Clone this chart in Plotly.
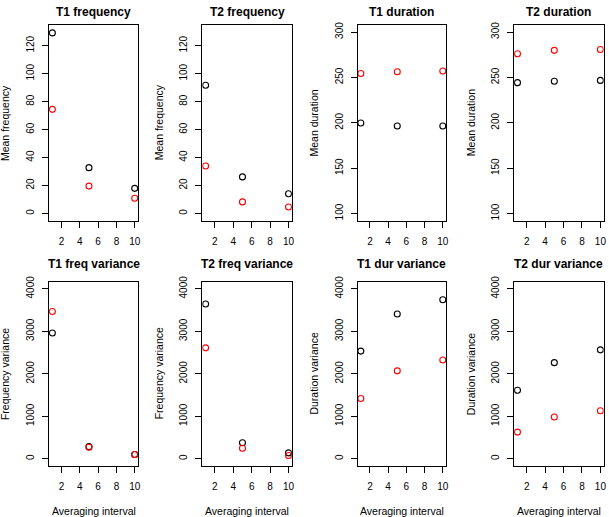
import plotly.graph_objects as go

# ---- data ----
interval = [1, 5, 10]
x_ticks = [2, 4, 6, 8, 10]

t1_freq_black = [129.2, 32.8, 18.0]
t1_freq_red = [74.5, 19.6, 10.9]
t2_freq_black = [91.7, 26.2, 14.1]
t2_freq_red = [34.0, 8.3, 4.7]
t1_dur_black = [199.7, 196.4, 196.4]
t1_dur_red = [254.3, 256.2, 257.0]
t2_dur_black = [244.2, 245.7, 246.7]
t2_dur_red = [276.1, 279.8, 280.8]
t1_fvar_black = [2961, 286, 100]
t1_fvar_red = [3466, 271, 100]
t2_fvar_black = [3643, 379, 140]
t2_fvar_red = [2612, 247, 77]
t1_dvar_black = [2535, 3410, 3745]
t1_dvar_red = [1419, 2070, 2326]
t2_dvar_black = [1612, 2263, 2565]
t2_dvar_red = [628, 984, 1130]

titles = ["T1 frequency", "T2 frequency", "T1 duration", "T2 duration",
          "T1 freq variance", "T2 freq variance", "T1 dur variance", "T2 dur variance"]
y_titles = ["Mean frequency", "Mean frequency", "Mean duration", "Mean duration",
            "Frequency variance", "Frequency variance", "Duration variance", "Duration variance"]
freq_ticks = [0, 20, 40, 60, 80, 100, 120]
dur_ticks = [100, 150, 200, 250, 300]
var_ticks = [0, 1000, 2000, 3000, 4000]
x_title = "Averaging interval"

panels = [
    (t1_freq_black, t1_freq_red, freq_ticks, [-5.2, 135.0]),
    (t2_freq_black, t2_freq_red, freq_ticks, [-5.2, 135.0]),
    (t1_dur_black, t1_dur_red, dur_ticks, [92, 308]),
    (t2_dur_black, t2_dur_red, dur_ticks, [92, 308]),
    (t1_fvar_black, t1_fvar_red, var_ticks, [-160, 4160]),
    (t2_fvar_black, t2_fvar_red, var_ticks, [-160, 4160]),
    (t1_dvar_black, t1_dvar_red, var_ticks, [-160, 4160]),
    (t2_dvar_black, t2_dvar_red, var_ticks, [-160, 4160]),
]

# ---- layout geometry (pixels) ----
W, H = 609, 517
col_px = [(49.3, 138.7), (203.3, 293.3), (359.3, 448.3), (516.7, 606.7)]
row_px = [(19.0, 217.3), (279.3, 465.0)]

FONT = "Liberation Sans, Arial, Helvetica, sans-serif"

fig = go.Figure()
layout = dict(
    width=W, height=H,
    margin=dict(l=0, r=0, t=0, b=0),
    paper_bgcolor="white", plot_bgcolor="white",
    showlegend=False,
    font=dict(family=FONT, color="black", size=10),
)
annotations = []

for i, (blk, red, yt, yr) in enumerate(panels):
    r, c = divmod(i, 4)
    x0, x1 = col_px[c]
    y0, y1 = row_px[r]
    n = "" if i == 0 else str(i + 1)
    xa, ya = "x" + n, "y" + n
    fig.add_trace(go.Scatter(x=interval, y=blk, mode="markers", xaxis=xa, yaxis=ya,
                             name="black", marker=dict(symbol="circle-open", size=6,
                                                      color="black", line=dict(width=1.1))))
    fig.add_trace(go.Scatter(x=interval, y=red, mode="markers", xaxis=xa, yaxis=ya,
                             name="red", marker=dict(symbol="circle-open", size=6,
                                                    color="#ff0000", line=dict(width=1.1))))
    common = dict(showline=True, mirror=True, linecolor="black", linewidth=1,
                  ticks="outside", ticklen=6, tickcolor="black", tickwidth=1,
                  showgrid=False, zeroline=False,
                  tickfont=dict(family=FONT, size=10, color="black"))
    layout["xaxis" + n] = dict(common, domain=[x0 / W, x1 / W], anchor=ya,
                               range=[0.64, 10.36], tickvals=x_ticks,
                               ticktext=[str(v) for v in x_ticks], ticklabelstandoff=5)
    layout["yaxis" + n] = dict(common, domain=[1 - y1 / H, 1 - y0 / H], anchor=xa,
                               range=yr, tickvals=yt, ticktext=[str(v) for v in yt],
                               tickangle=-90, ticklabelstandoff=4)
    # panel title
    annotations.append(dict(text="<b>" + titles[i] + "</b>", xref="paper", yref="paper",
                            x=(x0 + x1) / 2 / W, y=1 - (6.0 if r == 0 else 260.7) / H,
                            xanchor="center", yanchor="middle", showarrow=False,
                            font=dict(family=FONT, size=12, color="black")))
    # y title
    annotations.append(dict(text=y_titles[i], xref="paper", yref="paper",
                            x=(x0 - 44) / W, y=1 - (y0 + y1) / 2 / H, textangle=-90,
                            xanchor="center", yanchor="middle", showarrow=False,
                            font=dict(family=FONT, size=10.5, color="black")))
    if r == 1:
        annotations.append(dict(text=x_title, xref="paper", yref="paper",
                                x=(x0 + x1) / 2 / W, y=1 - 511 / H,
                                xanchor="center", yanchor="middle", showarrow=False,
                                font=dict(family=FONT, size=10.5, color="black")))

layout["annotations"] = annotations
fig.update_layout(**layout)
fig.write_html("out.html", config={"displayModeBar": False},
               post_script="document.body.style.margin='0';document.body.style.overflow='hidden';")
